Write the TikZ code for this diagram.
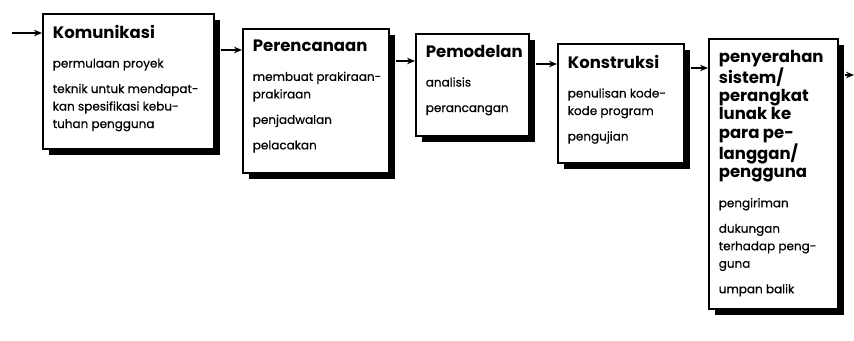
\documentclass[tikz,border=0pt]{standalone}
\usepackage{fontspec}
\setmainfont{Poppins}
\newfontfamily\isifont{Poppins}[FakeBold=0.5]
\usetikzlibrary{arrows.meta,shadows}

% stage boxes: fixed size, text from the top
\newcommand{\kotak}[4]{\parbox[t][#2pt][t]{#1pt}{\raggedright
  {\fontsize{16.5}{18.4}\selectfont\bfseries #3\par}\vspace{12pt}%
  \isifont\fontsize{12}{17.5}\selectfont #4}}
\newcommand{\sela}{\par\vspace{8pt}}

\tikzset{
  tahap/.style={draw, line width=1.6pt, fill=white, anchor=north west,
    inner xsep=10pt, inner ysep=11pt,
    drop shadow={shadow xshift=6pt, shadow yshift=-6pt, opacity=1, fill=black}},
  alur/.style={line width=1.4pt, -{Stealth[length=8pt,width=6.5pt]}}
}

\begin{document}
\begin{tikzpicture}[x=1pt,y=-1pt]
  \useasboundingbox (0,0) rectangle (854,340);

  % the five framework activities
  \node[tahap] (kom) at (42,13) {\kotak{151}{113}{Komunikasi}
    {permulaan proyek\sela
     \mbox{teknik untuk mendapat-}\\\mbox{kan spesifikasi kebu-}\\tuhan pengguna}};
  \node[tahap] (ren) at (242,28) {\kotak{126}{122}{Perencanaan}
    {\mbox{membuat prakiraan-}\\prakiraan\sela
     penjadwalan\sela
     pelacakan}};
  \node[tahap] (mod) at (415,33) {\kotak{93}{80}{Pemodelan}
    {analisis\sela
     perancangan}};
  \node[tahap] (kon) at (557,43) {\kotak{106}{97}{Konstruksi}
    {\mbox{penulisan kode-}\\kode program\sela
     pengujian}};
  \node[tahap] (ser) at (708,38) {\kotak{109}{248}{penyerahan\\sistem/\\perangkat\\lunak ke\\\mbox{para pe-}\\langgan/\\pengguna}
    {pengiriman\sela
     dukungan\\\mbox{terhadap peng-}\\guna\sela
     umpan balik}};

  % flow between the activities
  \coordinate (mulai) at (12,33);
  \coordinate (akhir) at (854,75);
  \draw[alur] (mulai) -- (kom.west |- mulai);
  \draw[alur] ([xshift=6pt,yshift=-37pt]kom.north east) coordinate (p1) -- (ren.west |- p1);
  \draw[alur] ([xshift=6pt,yshift=-33pt]ren.north east) coordinate (p2) -- (mod.west |- p2);
  \draw[alur] ([xshift=6pt,yshift=-31pt]mod.north east) coordinate (p3) -- (kon.west |- p3);
  \draw[alur] ([xshift=6pt,yshift=-25pt]kon.north east) coordinate (p4) -- (ser.west |- p4);
  \draw[alur] ([xshift=6pt]ser.east |- akhir) -- (akhir);
\end{tikzpicture}
\end{document}
